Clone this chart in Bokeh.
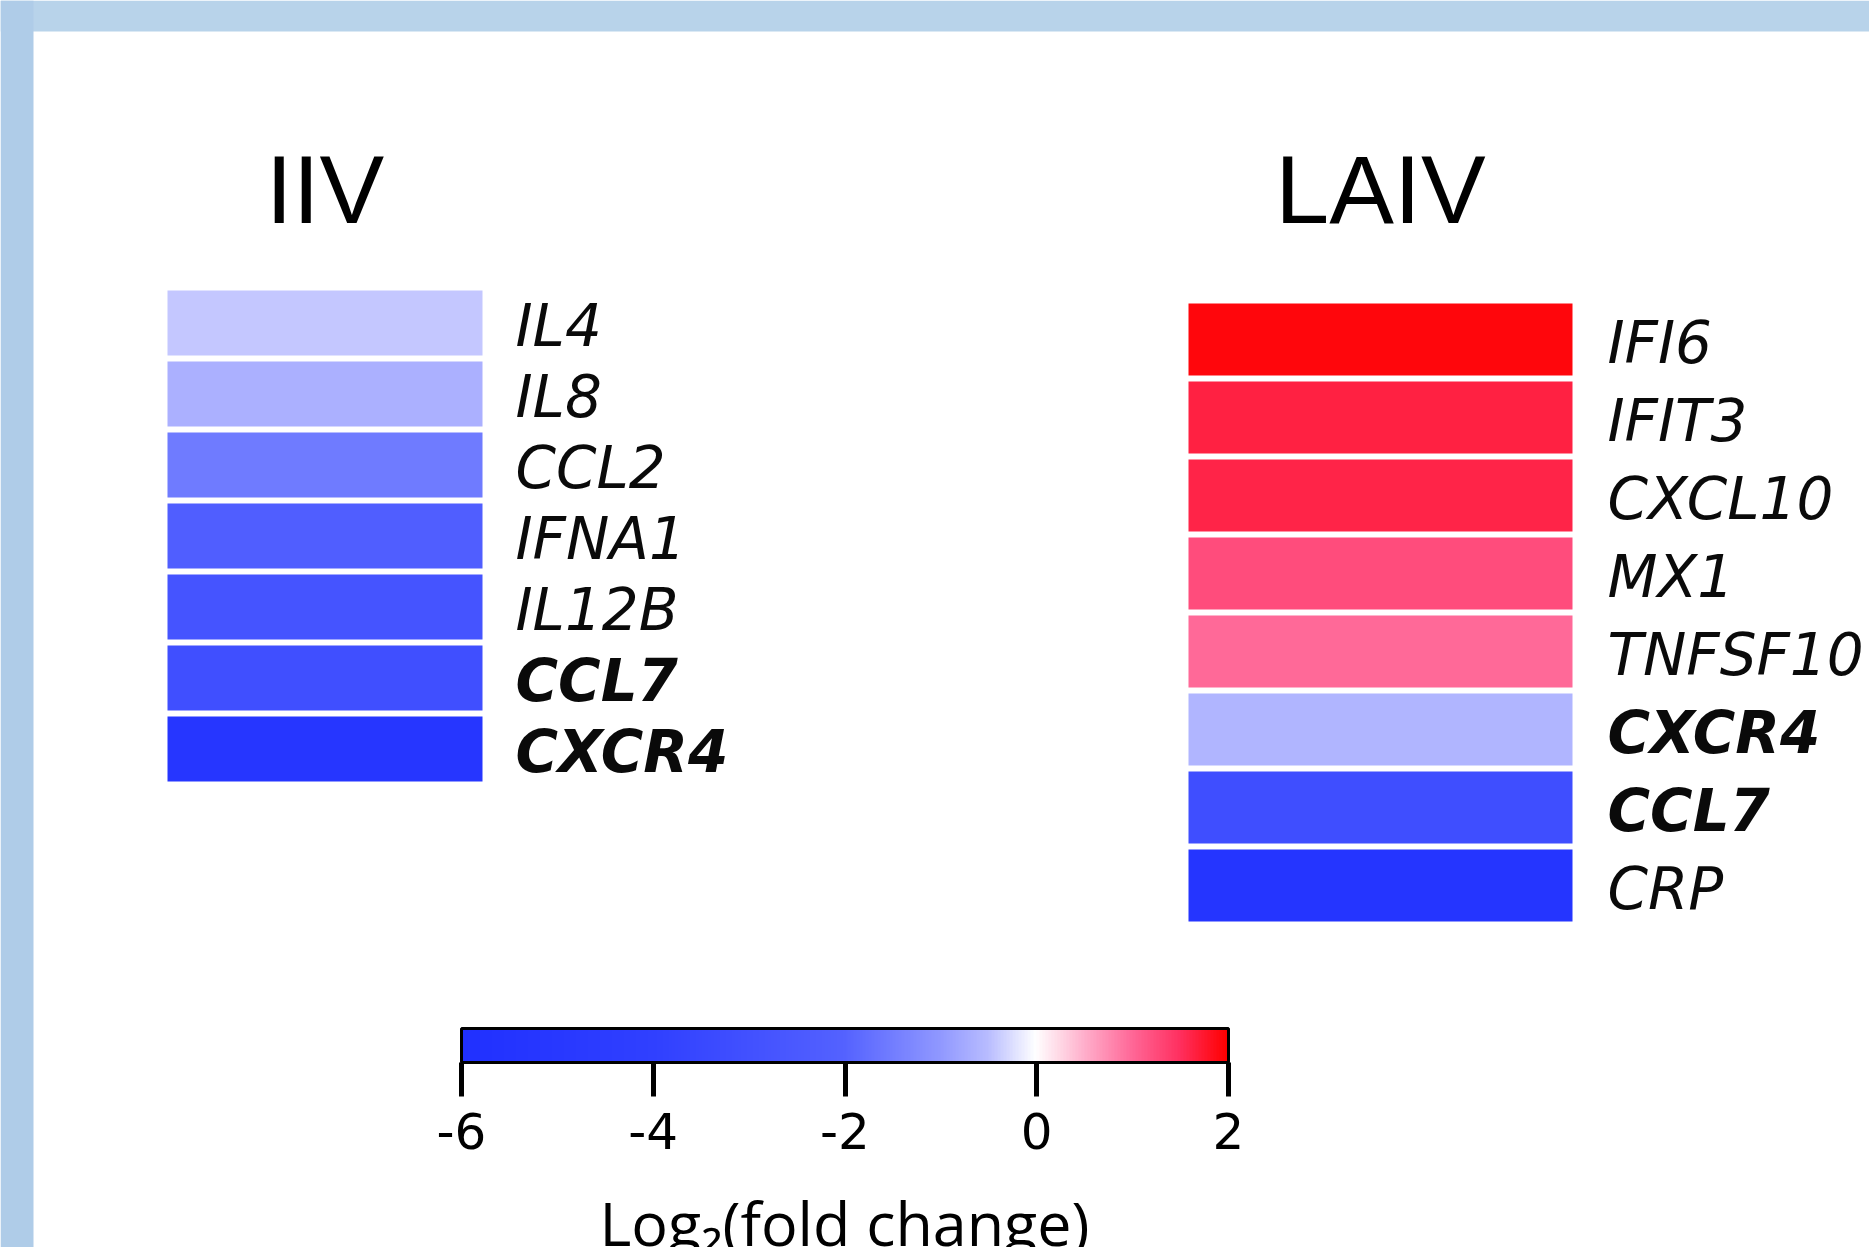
import numpy as np
from bokeh.plotting import figure
from bokeh.models import ColumnDataSource, LinearColorMapper, ColorBar, FixedTicker, Range1d
from bokeh.transform import transform
from bokeh.core.properties import value
from bokeh.embed import file_html
from bokeh.resources import INLINE

# ---------------- data ----------------
iiv_genes = ["IL4", "IL8", "CCL2", "IFNA1", "IL12B", "CCL7", "CXCR4"]
iiv_log2fc = [-0.42, -0.68, -1.55, -2.22, -2.83, -3.10, -5.25]
iiv_bold = [False, False, False, False, False, True, True]

laiv_genes = ["IFI6", "IFIT3", "CXCL10", "MX1", "TNFSF10", "CXCR4", "CCL7", "CRP"]
laiv_log2fc = [1.92, 1.64, 1.61, 1.22, 0.97, -0.62, -3.17, -5.40]
laiv_bold = [False, False, False, False, False, True, True, False]

panel_titles = ["IIV", "LAIV"]
cbar_ticks = [-6, -4, -2, 0, 2]
cbar_low, cbar_high = -6, 2
cbar_label = "Log\u2082(fold change)"

# ---------------- style / layout ----------------
W, H = 1869, 1247
anchors_v = [-6, -4, -2, -1, -0.5, 0, 0.5, 1, 1.5, 2]
anchors_c = ["#2030ff", "#3040ff", "#5462ff", "#9098ff", "#b8bcff", "#ffffff",
             "#ffb0cc", "#ff6898", "#ff3060", "#ff0000"]


def hex2rgb(h):
    return [int(h[i:i + 2], 16) for i in (1, 3, 5)]


rgb = np.array([hex2rgb(c) for c in anchors_c], dtype=float)
grid = np.linspace(cbar_low, cbar_high, 256)
palette = []
for g in grid:
    r, gg, b = (np.interp(g, anchors_v, rgb[:, k]) for k in range(3))
    palette.append("#%02x%02x%02x" % (int(round(r)), int(round(gg)), int(round(b))))

mapper = LinearColorMapper(palette=palette, low=cbar_low, high=cbar_high)

p = figure(width=W, height=H, output_backend="svg", toolbar_location=None,
           x_range=Range1d(0, W), y_range=Range1d(H, 0),
           min_border=0, outline_line_color=None)
p.axis.visible = False
p.grid.visible = False
p.background_fill_color = "white"
p.border_fill_color = "white"

# slide background border
p.quad(left=[0], right=[W], top=[0], bottom=[31], fill_color="#b8d3ea", line_color=None)
p.quad(left=[0], right=[33], top=[0], bottom=[H], fill_color="#afcce8", line_color=None)

panels = [
    dict(genes=iiv_genes, vals=iiv_log2fc, bold=iiv_bold, left=167, right=482, top=290, pitch=71, gap=6,
         label_x=515, title=panel_titles[0]),
    dict(genes=laiv_genes, vals=laiv_log2fc, bold=laiv_bold, left=1188, right=1572, top=303, pitch=78, gap=6,
         label_x=1607, title=panel_titles[1]),
]

for pn in panels:
    n = len(pn["genes"])
    idx = np.arange(n)
    tops = pn["top"] + idx * pn["pitch"]
    bottoms = tops + pn["pitch"] - pn["gap"]
    src = ColumnDataSource(dict(
        gene=pn["genes"], val=pn["vals"], top=tops, bottom=bottoms,
        left=[pn["left"]] * n, right=[pn["right"]] * n,
        ly=(tops + bottoms) / 2 + 3, lx=[pn["label_x"]] * n,
        style=["bold italic" if b else "italic" for b in pn["bold"]],
    ))
    p.quad(left="left", right="right", top="top", bottom="bottom", source=src,
           fill_color=transform("val", mapper), line_color=None)
    p.text(x="lx", y="ly", text="gene", source=src, text_font=value("DejaVu Sans"),
           text_font_style="style", text_font_size="58px", text_baseline="middle",
           text_align="left", text_color="#0a0a0a")
    p.text(x=[(pn["left"] + pn["right"]) / 2], y=[189], text=[pn["title"]],
           text_font=value("Liberation Sans"), text_font_size="97px",
           text_align="center", text_baseline="middle", text_color="black")

cb = ColorBar(color_mapper=mapper, orientation="horizontal", width=767, height=34,
              location=(461, 96), padding=0,
              ticker=FixedTicker(ticks=cbar_ticks),
              major_label_overrides={t: str(t) for t in cbar_ticks},
              bar_line_color="black", bar_line_width=3,
              major_tick_out=34, major_tick_in=0, major_tick_line_color="black",
              major_tick_line_width=5, minor_tick_line_color=None,
              major_label_text_font="DejaVu Sans", major_label_text_font_size="50px",
              major_label_text_color="black", label_standoff=16,
              background_fill_alpha=0, border_line_color=None)
p.add_layout(cb, "center")

p.text(x=[844], y=[1222], text=[cbar_label], text_font=value("Open Sans"),
       text_font_size="61px", text_align="center", text_baseline="middle",
       text_color="black")

open("out.html", "w").write(file_html(p, INLINE))
